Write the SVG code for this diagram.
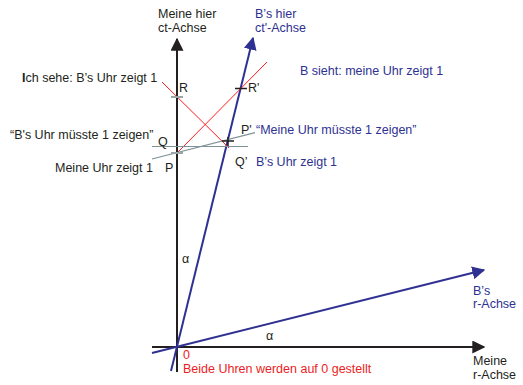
<svg xmlns="http://www.w3.org/2000/svg" width="523" height="385" viewBox="0 0 523 385">
<defs>
<style>
text{font-family:"Liberation Sans",Arial,sans-serif;font-size:12.5px;fill:#231f20}
.b{fill:#2e3192}
.r{fill:#ed1c24}
.ax{stroke:#231f20;stroke-width:2;fill:none}
.bx{stroke:#2e3192;stroke-width:2;fill:none}
.red{stroke:#ff1a1a;stroke-width:1;fill:none}
.gr{stroke:#7f9297;stroke-width:1.2;fill:none}
.tk{stroke:#231f20;stroke-width:1.5}
.gt{stroke:#9aa5a8;stroke-width:2}
</style>
<marker id="ak" viewBox="0 0 10 10" refX="9" refY="5" markerWidth="6.5" markerHeight="6.5" orient="auto" markerUnits="strokeWidth"><path d="M0,0L10,5L0,10z" fill="#231f20"/></marker>
<marker id="ab" viewBox="0 0 10 10" refX="9" refY="5" markerWidth="6.5" markerHeight="6.5" orient="auto" markerUnits="strokeWidth"><path d="M0,0L10,5L0,10z" fill="#2e3192"/></marker>
</defs>
<g id="connectors">
<line class="ax" x1="177" y1="372" x2="177" y2="39" marker-end="url(#ak)"/>
<line class="ax" x1="152" y1="347" x2="484" y2="347" marker-end="url(#ak)"/>
<line class="bx" x1="171" y1="371" x2="253" y2="38" marker-end="url(#ab)"/>
<line class="bx" x1="152" y1="353" x2="484" y2="270" marker-end="url(#ab)"/>
<line class="red" x1="162" y1="82" x2="229" y2="148"/>
<line class="red" x1="177" y1="153" x2="267" y2="62"/>
<line class="gr" x1="152" y1="146.5" x2="248" y2="146.5"/>
<line class="gr" x1="152" y1="159" x2="255" y2="132.7"/>
<line class="gt" x1="171" y1="97" x2="183" y2="97"/>
<line class="gt" x1="171" y1="153" x2="183" y2="153"/>
<line class="tk" x1="235" y1="88.5" x2="247" y2="88.5"/>
<line class="tk" x1="222" y1="141" x2="234" y2="141"/>
<line class="tk" x1="228" y1="137" x2="228" y2="146"/>
</g>
<g id="my-ct-axis"><text x="158" y="18">Meine hier</text><text x="158" y="32">ct-Achse</text></g>
<g id="b-ct-axis"><text class="b" x="255" y="18">B’s hier</text><text class="b" x="255" y="32">ct'-Achse</text></g>
<g id="b-sees"><text class="b" x="300" y="75">B sieht: meine Uhr zeigt 1</text></g>
<g id="i-see"><text x="22" y="82"><tspan font-weight="bold">I</tspan>ch sehe: B’s Uhr zeigt 1</text></g>
<g id="R"><text x="179" y="92">R</text></g>
<g id="R2"><text x="248" y="92">R'</text></g>
<g id="b-should"><text x="10" y="139">“B's Uhr müsste 1 zeigen”</text></g>
<g id="Q"><text x="158" y="146">Q</text></g>
<g id="P2"><text x="241" y="134">P'</text><text class="b" x="256" y="134">“Meine Uhr müsste 1 zeigen”</text></g>
<g id="P"><text x="55" y="172">Meine Uhr zeigt 1</text><text x="165" y="172">P</text></g>
<g id="Q2"><text x="235" y="166">Q’</text><text class="b" x="256" y="166">B’s Uhr zeigt 1</text></g>
<g id="alpha1"><text x="182" y="263" font-size="11">α</text></g>
<g id="alpha2"><text x="266" y="340" font-size="11">α</text></g>
<g id="b-r-axis"><text class="b" x="473" y="295">B’s</text><text class="b" x="473" y="308">r-Achse</text></g>
<g id="origin"><text class="r" x="183" y="359">0</text><text class="r" x="183" y="373">Beide Uhren werden auf 0 gestellt</text></g>
<g id="my-r-axis"><text x="473" y="365">Meine</text><text x="473" y="379">r-Achse</text></g>
</svg>
